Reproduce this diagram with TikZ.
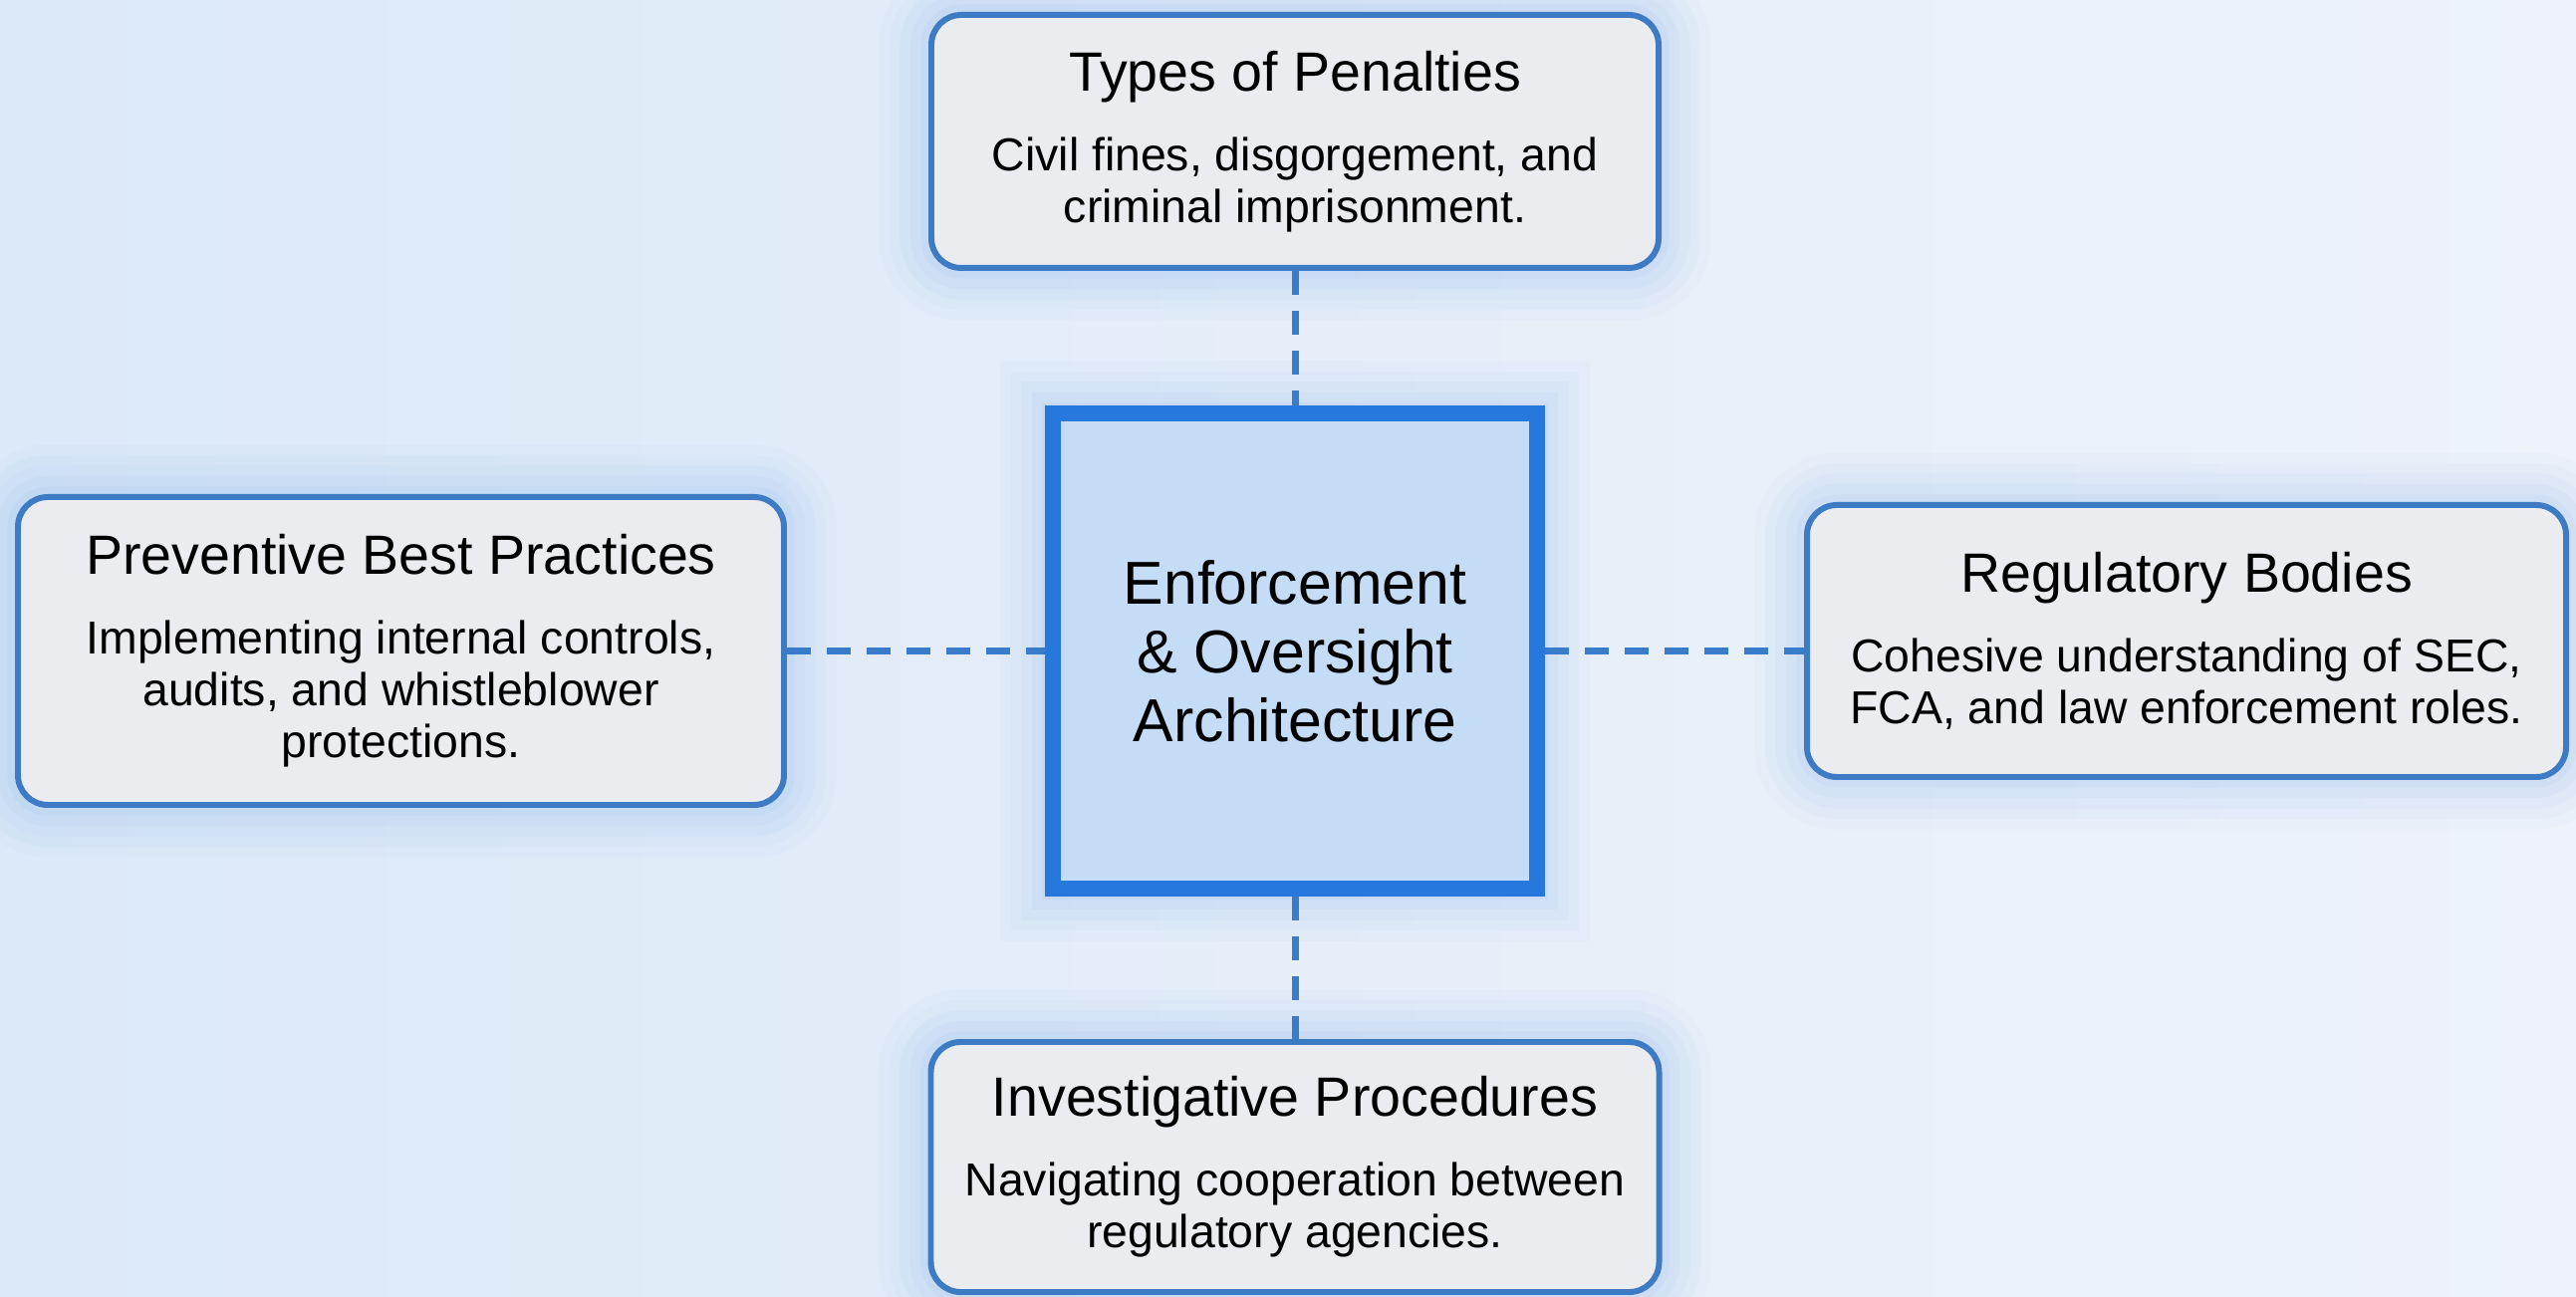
\documentclass[tikz,border=0pt]{standalone}
\usepackage{fontspec}
\setmainfont{Liberation Sans}
\usetikzlibrary{calc}

\definecolor{bgleft}{HTML}{DCE9F8}
\definecolor{bgright}{HTML}{EEF3FA}
\definecolor{edgeblue}{HTML}{3D7BC4}
\definecolor{boxgray}{HTML}{EBECEF}
\definecolor{hubedge}{HTML}{2678DC}
\definecolor{hubfill}{HTML}{C5DCF7}
\definecolor{linkblue}{HTML}{3A7CCC}
\definecolor{glowblue}{HTML}{4A90E2}

\newcommand{\hdsize}{\fontsize{15.8}{19}\selectfont}
\newcommand{\txsize}{\fontsize{13.2}{14.8}\selectfont}
\newcommand{\hubsize}{\fontsize{17.3}{19.6}\selectfont}

\tikzset{
  glow/.style={preaction={draw=glowblue, line width=30pt, opacity=0.025},
               preaction={draw=glowblue, line width=24pt, opacity=0.03},
               preaction={draw=glowblue, line width=18pt, opacity=0.035},
               preaction={draw=glowblue, line width=12pt, opacity=0.04},
               preaction={draw=glowblue, line width=6pt, opacity=0.05}},
  topic/.style={glow, draw=edgeblue, line width=1.7pt, fill=boxgray,
                rounded corners=0.3cm, align=center, inner sep=0pt, font=\txsize},
  hub/.style={glow, draw=hubedge, line width=4.5pt, fill=hubfill,
              align=center, inner sep=0pt, font=\hubsize,
              minimum width=4.86cm, minimum height=4.77cm},
  link/.style={draw=linkblue, line width=2pt, dash pattern=on 6.8pt off 4.6pt}
}

\begin{document}
\begin{tikzpicture}

%background
\useasboundingbox (0,0) rectangle (25.86,13.02);
\shade[left color=bgleft, right color=bgright] (0,0) rectangle (25.86,13.02);

\coordinate (c) at (13.00,6.485);
\coordinate (t) at (13.00,11.60);
\coordinate (l) at (4.025,6.485);
\coordinate (r) at (21.95,6.585);
\coordinate (b) at (13.00,1.305);

%boxes
\node[hub] (hub) at (c) {Enforcement\\\& Oversight\\Architecture};
%
\node[topic, minimum width=7.30cm, minimum height=2.54cm] (pen) at (t)
  {{\hdsize Types of Penalties}\\[8pt]Civil fines, disgorgement, and\\criminal imprisonment.};
\node[topic, minimum width=7.69cm, minimum height=3.09cm] (prev) at (l)
  {{\hdsize Preventive Best Practices}\\[8pt]Implementing internal controls,\\audits, and whistleblower\\protections.};
\node[topic, minimum width=7.62cm, minimum height=2.73cm] (reg) at (r)
  {{\hdsize Regulatory Bodies}\\[8pt]Cohesive understanding of SEC,\\FCA, and law enforcement roles.};
\node[topic, minimum width=7.31cm, minimum height=2.51cm] (inv) at (b)
  {{\hdsize Investigative Procedures}\\[8pt]Navigating cooperation between\\regulatory agencies.};

%links
\draw [link] (pen.south)--(hub.north);          %pen--hub
\draw [link] (hub.south)--(inv.north);          %hub--inv
\draw [link] (prev.east)--(hub.west);           %prev--hub
\draw [link] (hub.east)--(hub.east -| reg.west); %hub--reg

\end{tikzpicture}
\end{document}
